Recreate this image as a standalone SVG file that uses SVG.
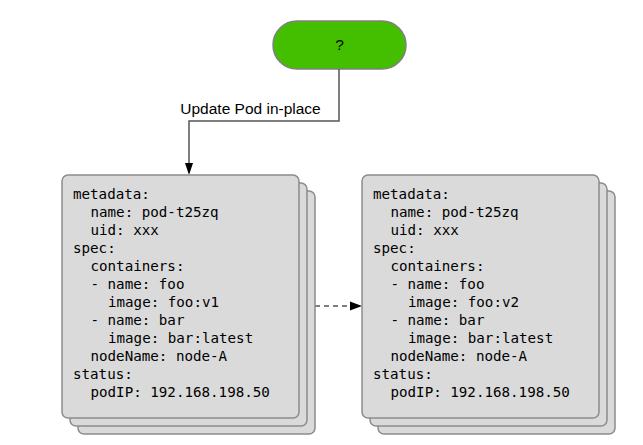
<svg xmlns="http://www.w3.org/2000/svg" width="643" height="445" viewBox="0 0 643 445">
<defs>
<style>
.card{fill:#dadada;stroke:#8c8c8c;stroke-width:1.5}
.code{font-family:"DejaVu Sans Mono","Liberation Mono",monospace;font-size:14.2px;fill:#000}
.lbl{font-family:"Liberation Sans",Arial,sans-serif;font-size:15.5px;fill:#000}
.conn{fill:none;stroke:#555;stroke-width:1.5}
</style>
</defs>
<rect width="643" height="445" fill="#fff"/>

<g id="start">
<rect x="273" y="21" width="133" height="48" rx="24" fill="#44bf00" stroke="#808080" stroke-width="1.5"/>
<text x="339.5" y="50" text-anchor="middle" class="lbl" font-size="15px">?</text>
</g>

<g id="connectors">
<path class="conn" d="M339,69 V121 H189 V163"/>
<path d="M185,163 L193,163 L189,175 z" fill="#000"/>
<text x="250.5" y="114" text-anchor="middle" class="lbl">Update Pod in-place</text>
<path d="M315,306 H350" fill="none" stroke="#555" stroke-width="1.5" stroke-dasharray="5,4"/>
<path d="M350,301.5 L362,306 L350,310.5 z" fill="#000"/>
</g>

<g id="pod-before">
<rect class="card" x="78" y="191" width="237" height="243" rx="6"/>
<rect class="card" x="70" y="183" width="237" height="243" rx="6"/>
<rect class="card" x="62" y="175" width="237" height="243" rx="6"/>
<g class="code">
<text x="73" y="199">metadata:</text>
<text x="90.5" y="217">name: pod-t25zq</text>
<text x="90.5" y="235">uid: xxx</text>
<text x="73" y="253">spec:</text>
<text x="90.5" y="271">containers:</text>
<text x="90.5" y="289">- name: foo</text>
<text x="108" y="307">image: foo:v1</text>
<text x="90.5" y="325">- name: bar</text>
<text x="108" y="343">image: bar:latest</text>
<text x="90.5" y="361">nodeName: node-A</text>
<text x="73" y="379">status:</text>
<text x="90.5" y="397">podIP: 192.168.198.50</text>
</g>
</g>

<g id="pod-after">
<rect class="card" x="378" y="191" width="237" height="243" rx="6"/>
<rect class="card" x="370" y="183" width="237" height="243" rx="6"/>
<rect class="card" x="362" y="175" width="237" height="243" rx="6"/>
<g class="code">
<text x="373" y="199">metadata:</text>
<text x="390.5" y="217">name: pod-t25zq</text>
<text x="390.5" y="235">uid: xxx</text>
<text x="373" y="253">spec:</text>
<text x="390.5" y="271">containers:</text>
<text x="390.5" y="289">- name: foo</text>
<text x="408" y="307">image: foo:v2</text>
<text x="390.5" y="325">- name: bar</text>
<text x="408" y="343">image: bar:latest</text>
<text x="390.5" y="361">nodeName: node-A</text>
<text x="373" y="379">status:</text>
<text x="390.5" y="397">podIP: 192.168.198.50</text>
</g>
</g>
</svg>
